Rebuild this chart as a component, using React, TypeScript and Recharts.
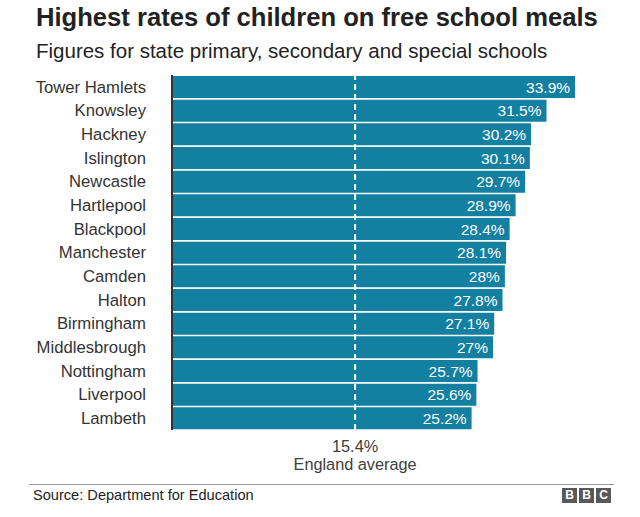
import React from 'react';
import { BarChart, Bar, XAxis, YAxis, ReferenceLine, LabelList } from 'recharts';

const categories = ['Tower Hamlets','Knowsley','Hackney','Islington','Newcastle','Hartlepool','Blackpool','Manchester','Camden','Halton','Birmingham','Middlesbrough','Nottingham','Liverpool','Lambeth'];
const values = [33.9,31.5,30.2,30.1,29.7,28.9,28.4,28.1,28,27.8,27.1,27,25.7,25.6,25.2];
const englandAverage = 15.4;
const title = 'Highest rates of children on free school meals';
const subtitle = 'Figures for state primary, secondary and special schools';
const source = 'Source: Department for Education';

const data = categories.map((name, i) => ({ name, value: values[i] }));
const FONT = '"Liberation Sans", Arial, Helvetica, sans-serif';

const AvgLabel = (props: any) => {
  const vb = props.viewBox || {};
  const x = vb.x;
  const y = vb.y + vb.height;
  return (
    <g>
      <text x={x} y={y + 22} textAnchor="middle" fill="#404040" fontSize={16.3} fontFamily={FONT}>{`${englandAverage}%`}</text>
      <text x={x} y={y + 40} textAnchor="middle" fill="#404040" fontSize={16.3} fontFamily={FONT}>England average</text>
    </g>
  );
};

export default function App() {
  return (
    <div style={{ position: 'absolute', left: 0, top: 0, width: 640, height: 517, background: '#fff', fontFamily: FONT, overflow: 'hidden' }}>
      <div style={{ position: 'absolute', left: 36, top: 3, fontSize: 25.6, fontWeight: 'bold', color: '#222', whiteSpace: 'nowrap' }}>{title}</div>
      <div style={{ position: 'absolute', left: 36, top: 39, fontSize: 20.5, color: '#222', whiteSpace: 'nowrap' }}>{subtitle}</div>
      <div style={{ position: 'absolute', left: 0, top: 0 }}>
        <BarChart width={640} height={517} data={data} layout="vertical" margin={{ top: 75, right: 40, bottom: 87, left: 0 }} barCategoryGap={1}>
          <XAxis type="number" domain={[0, 36]} hide />
          <YAxis type="category" dataKey="name" width={172} tickLine={false} tickSize={0} tickMargin={26} axisLine={{ stroke: '#333', strokeWidth: 2 }} tick={{ fill: '#333', fontSize: 16.7, fontFamily: FONT }} interval={0} />
          <Bar dataKey="value" fill="#1380A1" isAnimationActive={false}>
            <LabelList dataKey="value" position="insideRight" offset={5} formatter={(v: any) => `${v}%`} fill="#fff" fontSize={15.5} fontFamily={FONT} />
          </Bar>
          <ReferenceLine x={englandAverage} stroke="#fff" strokeWidth={2} strokeDasharray="6 4" label={<AvgLabel />} />
        </BarChart>
      </div>
      <div style={{ position: 'absolute', left: 29, top: 484, width: 585, height: 1, background: '#999' }} />
      <div style={{ position: 'absolute', left: 33, top: 487, fontSize: 14.6, color: '#222', whiteSpace: 'nowrap' }}>{source}</div>
      <div style={{ position: 'absolute', left: 562, top: 488, display: 'flex', gap: 2 }}>
        {['B', 'B', 'C'].map((c, i) => (
          <div key={i} style={{ width: 15, height: 15, background: '#595959', color: '#fff', fontSize: 12, fontWeight: 'bold', lineHeight: '15px', textAlign: 'center' }}>{c}</div>
        ))}
      </div>
    </div>
  );
}
